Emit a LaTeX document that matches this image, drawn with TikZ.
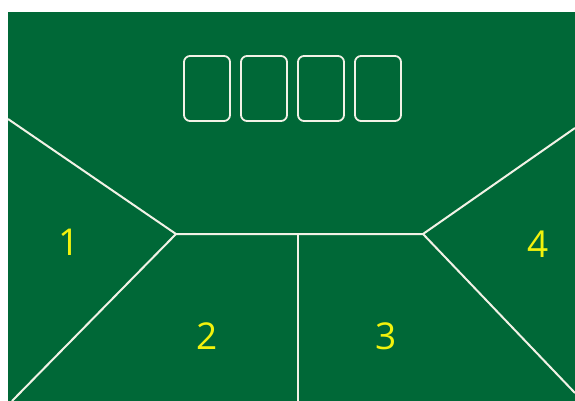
\documentclass[tikz,border=0pt]{standalone}
\usepackage{fontspec}
\setsansfont{Open Sans}
\usetikzlibrary{positioning}
\definecolor{cfelt}{HTML}{006837}
\definecolor{cline}{HTML}{F2F2E6}
\definecolor{cseat}{HTML}{F2F20C}
\tikzset{
  every picture/.style={font=\sffamily, line width=1.5pt},
  card/.style={draw=cline, rounded corners=6pt, minimum width=46pt, minimum height=65pt, inner sep=0pt, line width=1.8pt},
  rail/.style={draw=cline, line width=2pt},
  seat/.style={text=cseat, inner sep=0pt, font=\sffamily\fontsize{37}{37}\selectfont},
}

\begin{document}
\begin{tikzpicture}[x=1pt, y=-1pt]
  \fill[white] (0,0) rectangle (575,401);
  \useasboundingbox (0,0) rectangle (575,401);
  \fill[cfelt] (8,12) rectangle (575,401);
  % dealer cards
  \foreach \i/\x in {1/207,2/264,3/321,4/378} {
    \node[card] (c\i) at (\x,88.5) {};
  }
  % corners of the seat areas
  \coordinate (jl) at (176,234);
  \coordinate (jm) at (298,234);
  \coordinate (jr) at (423,234);
  \coordinate (lt) at (8,119);
  \coordinate (lb) at (12,401);
  \coordinate (mb) at (298,401);
  \coordinate (rt) at (575,128);
  \coordinate (rb) at (575,393);
  \draw[rail] (lt) -- (jl) -- (jr) -- (rt);
  \draw[rail] (lb) -- (jl); \draw[rail] (jr) -- (rb);
  \draw[rail] (jm) -- (mb);
  % seats
  \node[seat] (s1) at (69,242.5) {1};
  \node[seat] (s2) at (207,336) {2};
  \node[seat] (s3) at (386,336) {3};
  \node[seat] (s4) at (538,244) {4};
\end{tikzpicture}
\end{document}
